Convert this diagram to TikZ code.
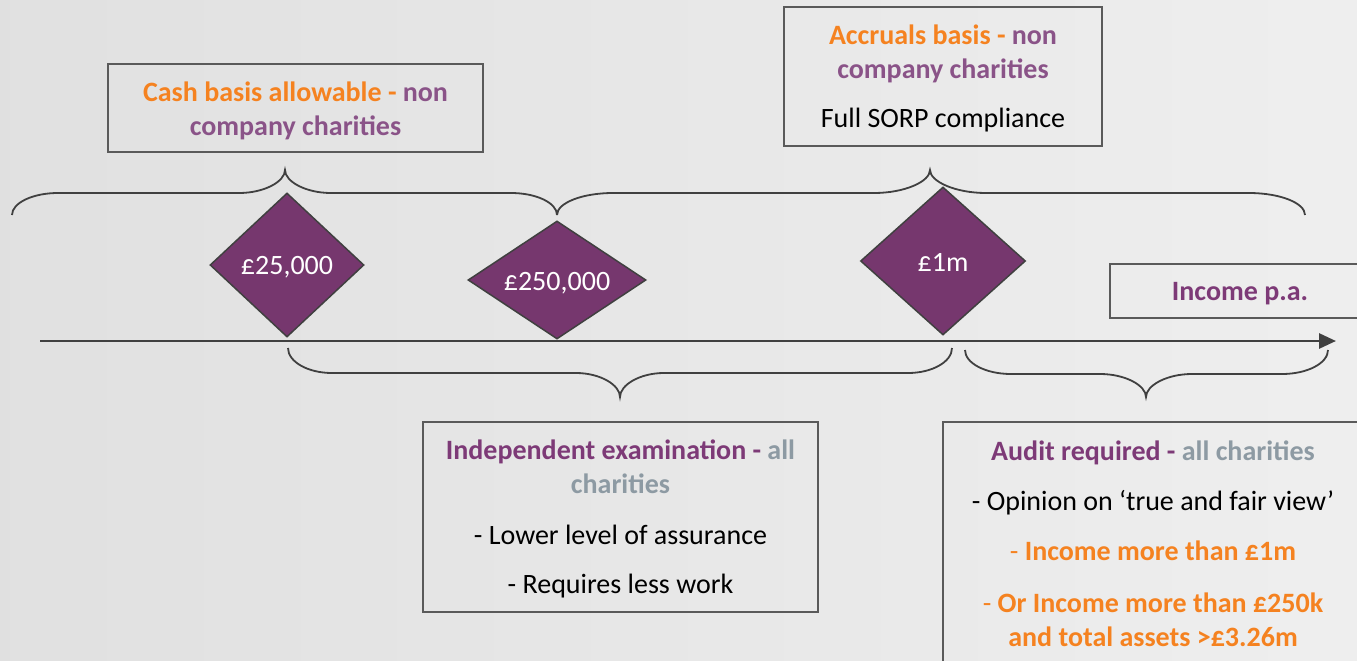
\documentclass[tikz,border=0pt]{standalone}
\usepackage{fontspec}
\setmainfont{Carlito}
\usetikzlibrary{shapes.geometric,arrows.meta}

\definecolor{accorange}{HTML}{F58220}
\definecolor{mutedplum}{HTML}{8A5388}
\definecolor{deepplum}{HTML}{7D3A77}
\definecolor{slate}{HTML}{8D9AA3}
\definecolor{gemfill}{HTML}{76376E}
\definecolor{inkgray}{HTML}{404040}
\definecolor{framegray}{HTML}{5A5A5A}

% Horizontal curly brace: #1 left x, #2 right x, #3 tip x,
% #4 y of the ends, #5 y of the long straight runs, #6 y of the tip, #7 curl size
\newcommand{\curlybrace}[7]{%
  \draw[bracket]
    (#1,#4) .. controls (#1,{#5+0.45*(#4-#5)}) and ({#1+0.45*#7},#5) .. ({#1+#7},#5)
    -- ({#3-#7},#5)
    .. controls ({#3-0.45*#7},#5) and (#3,{#6+0.5*(#5-#6)}) .. (#3,#6)
    .. controls (#3,{#6+0.5*(#5-#6)}) and ({#3+0.45*#7},#5) .. ({#3+#7},#5)
    -- ({#2-#7},#5)
    .. controls ({#2-0.45*#7},#5) and (#2,{#5+0.45*(#4-#5)}) .. (#2,#4);}

\begin{document}
\begin{tikzpicture}[x=1pt,y=-1pt,
  txt/.style={font=\fontsize{28}{34}\selectfont, align=center, inner sep=0pt},
  infobox/.style={draw=framegray, line width=1.8pt, inner sep=0pt},
  gem/.style={diamond, draw=inkgray, line width=1.5pt, fill=gemfill,
    inner sep=0pt, aspect=1.5},
  gemtext/.style={txt, text=white},
  bracket/.style={draw=inkgray, line width=1.8pt},
  ]

% canvas
\useasboundingbox (0,0) rectangle (1357,661);
\shade[left color=black!12, right color=black!6.5] (0,0) rectangle (1357,661);

% income axis
\coordinate (axstart) at (40,341);
\coordinate (axend) at (1336,341);
\draw[inkgray, line width=2.8pt, -{Triangle[length=17pt,width=15pt]}] (axstart) -- (axend);

% thresholds
\node[gem, minimum width=154pt, minimum height=144pt] (t25k) at (287,265) {};
\node[gem, minimum width=178pt, minimum height=118pt] (t250k) at (557,280) {};
\node[gem, minimum width=165pt, minimum height=148pt] (t1m) at (943,261) {};
\node[gemtext] (t25ktext) at ([yshift=-2pt]t25k.center) {£25,000};
\node[gemtext] (t250ktext) at ([yshift=-3pt]t250k.center) {£250,000};
\node[gemtext] (t1mtext) at ([yshift=-1pt]t1m.center) {£1m};

% braces above the axis
\curlybrace{12}{557}{285}{215}{193}{170}{46}
\curlybrace{557}{1305}{930}{215}{193}{170}{56}

% braces below the axis
\curlybrace{288}{952}{620}{348}{373}{397}{44}
\curlybrace{965}{1328}{1146}{350}{374}{397}{46}

% accounting basis boxes
\node[infobox, minimum width=375pt, minimum height=88pt] (cashbox) at (295.5,108) {};
\node[txt] (cashtext) at ([yshift=-2.5pt]cashbox.center)
  {\textcolor{accorange}{\bfseries Cash basis allowable - }\textcolor{mutedplum}{\bfseries non}\\
   \textcolor{mutedplum}{\bfseries company charities}};

\node[infobox, minimum width=318pt, minimum height=139pt] (accbox) at (943,76.5) {};
\node[txt] (acctext) at ([yshift=-2pt]accbox.center)
  {\textcolor{accorange}{\bfseries Accruals basis - }\textcolor{mutedplum}{\bfseries non}\\
   \textcolor{mutedplum}{\bfseries company charities}\\[15pt]
   Full SORP compliance};

% axis label
\node[infobox, minimum width=260pt, minimum height=54pt] (incomebox) at (1240,291) {};
\node[txt] (incometext) at ([yshift=-2.5pt]incomebox.center)
  {\textcolor{deepplum}{\bfseries Income p.a.}};

% scrutiny boxes
\node[infobox, minimum width=395pt, minimum height=190pt] (iebox) at (620.5,517) {};
\node[txt] (ietext) at ([yshift=-2pt]iebox.center)
  {\textcolor{deepplum}{\bfseries Independent examination - }\textcolor{slate}{\bfseries all}\\
   \textcolor{slate}{\bfseries charities}\\[17pt]
   - Lower level of assurance\\[15pt]
   - Requires less work};

\node[infobox, minimum width=420pt, minimum height=240pt] (auditbox) at (1153,542) {};
\node[txt] (audittext) at ([yshift=-1.5pt]auditbox.center)
  {\textcolor{deepplum}{\bfseries Audit required - }\textcolor{slate}{\bfseries all charities}\\[16pt]
   - Opinion on ‘true and fair view’\\[16pt]
   \textcolor{accorange}{- \bfseries Income more than £1m}\\[18pt]
   \textcolor{accorange}{- \bfseries Or Income more than £250k}\\
   \textcolor{accorange}{\bfseries and total assets >£3.26m}};

\end{tikzpicture}
\end{document}
